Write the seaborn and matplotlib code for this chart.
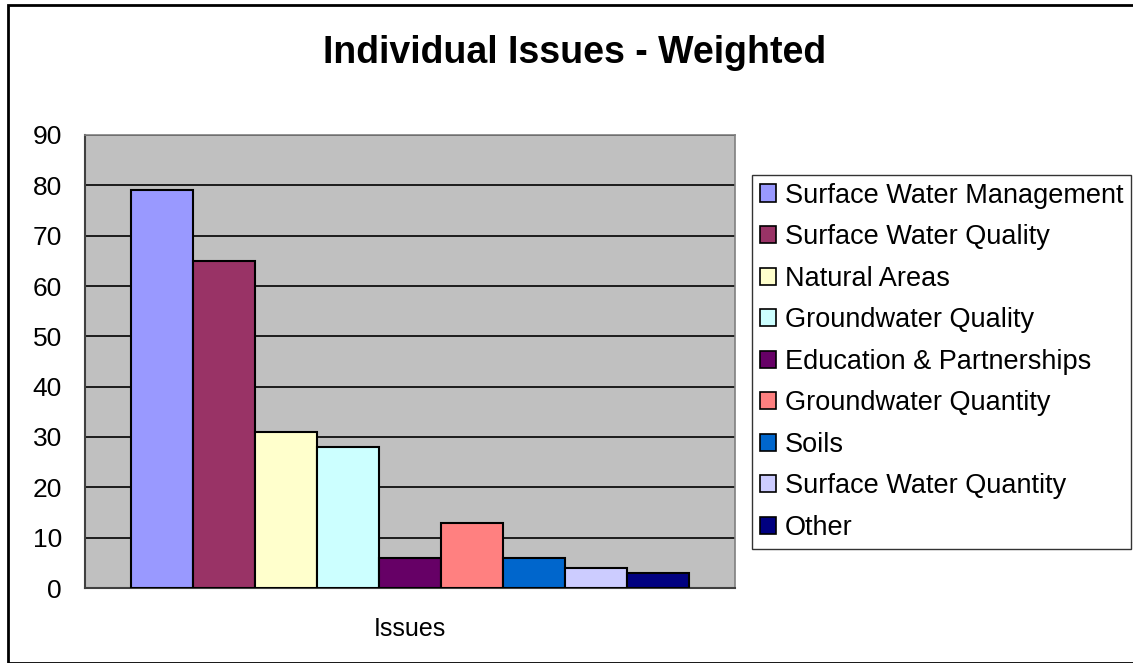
import pandas as pd
import matplotlib
matplotlib.use("Agg")
import matplotlib.pyplot as plt
import matplotlib.patches as mpatches
import seaborn as sns

# chart data
issues = ["Surface Water Management", "Surface Water Quality", "Natural Areas",
          "Groundwater Quality", "Education & Partnerships", "Groundwater Quantity",
          "Soils", "Surface Water Quantity", "Other"]
weighted = [79, 65, 31, 28, 6, 13, 6, 4, 3]
colors = ["#9999FF", "#993366", "#FFFFCC", "#CCFFFF", "#660066",
          "#FF8080", "#0066CC", "#CCCCFF", "#000080"]

df = pd.DataFrame({"group": ["Issues"] * len(issues), "issue": issues, "value": weighted})

sns.set_style("white")
plt.rcParams["font.family"] = ["Liberation Sans", "DejaVu Sans"]
plt.rcParams["text.color"] = "black"
plt.rcParams["axes.labelcolor"] = "black"
plt.rcParams["xtick.labelcolor"] = "black"
plt.rcParams["ytick.labelcolor"] = "black"

fig = plt.figure(figsize=(11.33, 6.63), dpi=100)
ax = fig.add_axes([85 / 1133, 1 - 588 / 663, 650 / 1133, 453 / 663])
ax.set_facecolor("#C0C0C0")

sns.barplot(data=df, x="group", y="value", hue="issue", palette=colors,
            width=0.857, gap=0, edgecolor="black", linewidth=1.5,
            saturation=1, ax=ax, zorder=3)

ax.set_xlim(-0.5, 0.5)
ax.set_ylim(0, 90)
ax.set_yticks(range(0, 91, 10))
ax.tick_params(axis="y", labelsize=19, length=7.5, direction="out", color="#404040", pad=9)
ax.set_xticks([0])
ax.set_xticklabels(["Issues"], fontsize=18)
ax.tick_params(axis="x", length=0, pad=21)
ax.set_xticks([-0.5, 0.5], minor=True)
ax.tick_params(axis="x", which="minor", length=7, color="#404040")
ax.set_xlabel("")
ax.set_ylabel("")
ax.yaxis.grid(True, color="black", linewidth=1.2, zorder=0)
ax.set_axisbelow(True)
for side in ["left", "bottom"]:
    ax.spines[side].set_color("#404040")
    ax.spines[side].set_linewidth(1.5)
for side in ["top", "right"]:
    ax.spines[side].set_color("#808080")
    ax.spines[side].set_linewidth(1.2)

handles = [mpatches.Patch(facecolor=c, edgecolor="black", linewidth=1.2) for c in colors]
ax.get_legend().remove()
leg = fig.legend(handles, issues, loc="upper left", bbox_to_anchor=(752 / 1133, 1 - 175 / 663),
                 fontsize=19.5, frameon=True, fancybox=False, borderaxespad=0,
                 handlelength=0.6, handleheight=0.6, handletextpad=0.33,
                 labelspacing=0.574, borderpad=0.28)
leg.get_frame().set_edgecolor("black")
leg.get_frame().set_linewidth(1.0)

fig.text(575 / 1133, 1 - 53 / 663, "Individual Issues - Weighted", ha="center", va="center",
         fontsize=27, fontweight="bold")

# outer chart border
fig.patches.append(mpatches.Rectangle((8 / 1133, 0), 1.2, 1 - 5 / 663, transform=fig.transFigure,
                                      fill=False, edgecolor="black", linewidth=2))

fig.savefig("out.png", dpi=100)
